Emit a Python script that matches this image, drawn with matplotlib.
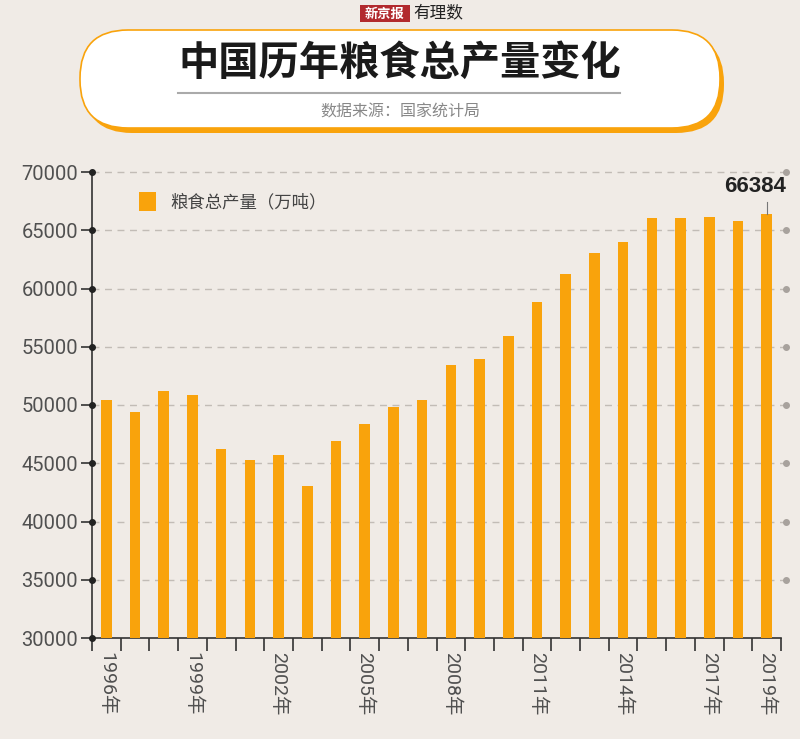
import matplotlib
matplotlib.use("Agg")
import matplotlib.pyplot as plt
from matplotlib.patches import FancyBboxPatch, Rectangle
from matplotlib.lines import Line2D

plt.rcParams['font.family'] = ['Noto Sans CJK SC', 'DejaVu Sans']

years = list(range(1996, 2020))
production = [50454, 49417, 51230, 50839, 46218, 45264, 45706, 43070, 46947, 48402,
              49804, 50414, 53434, 53941, 55911, 58849, 61223, 63048, 63965, 66060,
              66044, 66161, 65789, 66384]
label_years = [1996, 1999, 2002, 2005, 2008, 2011, 2014, 2017, 2019]
yticks = [30000, 35000, 40000, 45000, 50000, 55000, 60000, 65000, 70000]
title = "中国历年粮食总产量变化"
subtitle = "数据来源：国家统计局"
legend_label = "粮食总产量（万吨）"

BG = "#f0ebe6"
ORANGE = "#f9a30c"
W, H = 800, 739
NUMFONT = ['Roboto', 'Noto Sans CJK SC', 'DejaVu Sans']

fig = plt.figure(figsize=(8, 7.39), dpi=100, facecolor=BG)

# ---- header (figure pixel coords via an overlay axes) ----
hdr = fig.add_axes([0, 0, 1, 1], facecolor="none")
hdr.set_xlim(0, W)
hdr.set_ylim(H, 0)
hdr.axis("off")
hdr.add_patch(FancyBboxPatch((84 + 48, 35 + 48), 640 - 96, 98 - 96,
                             boxstyle="round,pad=48", fc=ORANGE, ec="none", zorder=1))
hdr.add_patch(FancyBboxPatch((80 + 48, 30 + 48), 640 - 96, 98 - 96,
                             boxstyle="round,pad=48", fc="white", ec=ORANGE, lw=1.2, zorder=2))
hdr.text(400, 63, title, ha="center", va="center", fontsize=29, fontweight="bold",
         color="#1a1a1a", zorder=3)
hdr.add_line(Line2D([178, 620], [93, 93], color="#aaaaaa", lw=1.5, zorder=3))
hdr.text(400, 112, subtitle, ha="center", va="center", fontsize=11.5, color="#888888", zorder=3)
# logo
hdr.add_patch(Rectangle((360, 5), 50, 17, fc="#b22a2e", ec="none", zorder=3))
hdr.text(385, 13.5, "新京报", ha="center", va="center", fontsize=9.5, color="white",
         fontweight="bold", zorder=4)
hdr.text(413, 13, "有理数", ha="left", va="center", fontsize=12, color="#222222",
         style="italic", zorder=4)

# ---- chart ----
ax = fig.add_axes([92 / W, 1 - 638 / H, (781 - 92) / W, (638 - 172) / H], facecolor="none")
x = list(range(len(years)))
ax.bar(x, production, width=0.37, color=ORANGE, zorder=3, label=legend_label)
ax.set_xlim(-0.5, len(years) - 0.5)
ax.set_ylim(30000, 70000)

for s in ["top", "right"]:
    ax.spines[s].set_visible(False)
for s in ["left", "bottom"]:
    ax.spines[s].set_color("#333333")
    ax.spines[s].set_linewidth(1.2)

ax.set_yticks(yticks)
ax.set_yticklabels([str(v) for v in yticks], fontsize=14.5, color="#505050", family=NUMFONT)
ax.tick_params(axis="y", length=8, width=1.2, color="#333333", pad=2)

# gridlines with end dots
for v in yticks[1:]:
    ax.plot([0, 1.007], [v, v], transform=ax.get_yaxis_transform(), ls=(0, (5, 4)),
            color="#c2bcb6", lw=1, clip_on=False, zorder=1)
    ax.plot([1.007], [v], transform=ax.get_yaxis_transform(), marker="o", ms=4,
            color="#a8a29d", clip_on=False, zorder=1)
for v in yticks:
    ax.plot([0], [v], transform=ax.get_yaxis_transform(), marker="o", ms=4,
            color="#222222", clip_on=False, zorder=5)

# x ticks at category boundaries, labels at selected years
ax.set_xticks([i - 0.5 for i in range(len(years) + 1)])
ax.set_xticklabels([])
ax.tick_params(axis="x", length=9, width=1.2, color="#333333", direction="out")
for yr in label_years:
    i = years.index(yr)
    ax.text(i, 28800, f"{yr}年", rotation=270, ha="center", va="top", fontsize=14,
            color="#505050", family=NUMFONT, clip_on=False)

# legend
ax.legend(loc="upper left", bbox_to_anchor=(0.045, 0.99), frameon=False, fontsize=12.5,
          handlelength=1.0, handleheight=1.3, handletextpad=0.8, labelcolor="#444444")

# annotation for last value
last = len(years) - 1
ax.text(last - 0.4, production[last] + 1500, f"{production[last]}", ha="center", va="bottom",
        fontsize=16, fontweight="bold", color="#222222", family=['Liberation Sans'])
ax.plot([last, last], [production[last], production[last] + 1050], color="#777777", lw=0.8,
        zorder=4)

fig.savefig("out.png", dpi=100, facecolor=BG)
